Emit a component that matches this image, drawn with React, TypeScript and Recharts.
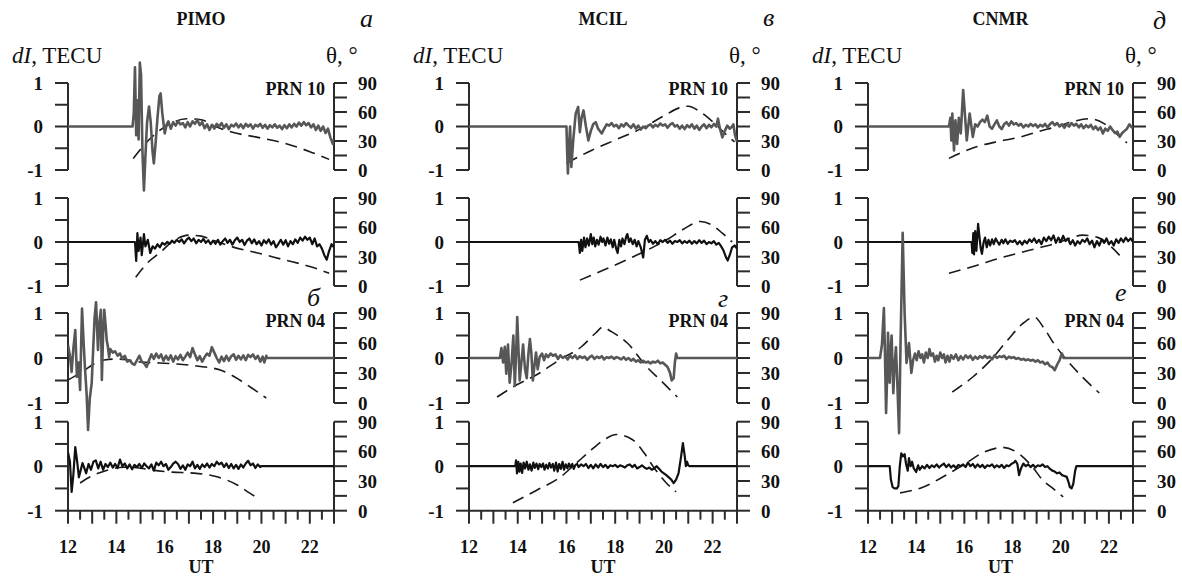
import React from 'react';
import { LineChart, Line, XAxis, YAxis, ReferenceLine } from 'recharts';

type P = [number, number];

const stations = ['PIMO', 'MCIL', 'CNMR'];
const topLetters = ['а', 'в', 'д'];
const midLetters = ['б', 'г', 'е'];
const prnTop = 'PRN 10';
const prnMid = 'PRN 04';
const xTicks = [12, 12.5, 13, 13.5, 14, 14.5, 15, 15.5, 16, 16.5, 17, 17.5, 18, 18.5, 19, 19.5, 20, 20.5, 21, 21.5, 22, 22.5, 23];
const xTickLabels = [12, 14, 16, 18, 20, 22];
const dITicks = [-1, -0.5, 0, 0.5, 1];
const dILabels = [-1, 0, 1];
const thTicks = [0, 15, 30, 45, 60, 75, 90];
const thLabels = [0, 30, 60, 90];

// ---------- PIMO ----------
const pimoR1dI: P[] = [[12,0],[14.67,0],[14.72,0.3],[14.77,1.36],[14.82,-0.2],[14.87,0.6],[14.92,-0.3],[14.97,1.47],[15.02,1.2],[15.08,-0.6],[15.14,-1.47],[15.2,-0.7],[15.27,0.1],[15.35,0.46],[15.42,0.1],[15.5,-0.6],[15.55,-0.85],[15.62,-0.4],[15.7,0.2],[15.78,0.7],[15.83,0.76],[15.9,0.3],[16.0,-0.16],[16.08,0.05],[16.15,0.12],[16.25,-0.05],[16.35,0.1],[16.45,0.02],[16.55,0.12],[16.65,0.05],[16.75,0.08],[16.85,-0.02],[16.95,0.1],[17.05,0.0],[17.15,0.12],[17.25,0.06],[17.35,0.15],[17.45,0.03],[17.55,0.1],[17.65,-0.04],[17.75,0.05],[17.85,-0.08],[17.95,0.04],[18.05,-0.05],[18.15,0.06],[18.25,0.0],[18.35,0.08],[18.45,-0.03],[18.55,0.05],[18.65,-0.06],[18.75,0.04],[18.85,0.0],[18.95,0.07],[19.05,-0.02],[19.15,0.05],[19.25,-0.04],[19.35,0.06],[19.45,0.0],[19.55,0.05],[19.65,-0.05],[19.75,0.04],[19.85,0.0],[19.95,0.06],[20.05,-0.03],[20.15,0.04],[20.25,-0.05],[20.35,0.03],[20.45,-0.02],[20.55,0.05],[20.65,-0.03],[20.75,0.02],[20.85,-0.06],[20.95,0.03],[21.05,-0.04],[21.15,0.05],[21.25,-0.02],[21.35,0.06],[21.45,0.0],[21.55,0.09],[21.65,0.02],[21.75,0.1],[21.85,0.03],[21.95,0.08],[22.05,-0.02],[22.15,0.05],[22.25,-0.08],[22.35,0.02],[22.45,-0.1],[22.55,0.0],[22.65,-0.15],[22.75,-0.05],[22.85,-0.25],[22.95,-0.4],[23,-0.3]];
const pimoR1th: P[] = [[14.7,12],[15.3,30],[16.1,46],[16.9,53],[17.5,52],[18.1,45],[18.8,39],[19.8,34],[20.9,28],[22,19],[22.8,11]];
const pimoR2dI: P[] = [[12,0],[14.77,0],[14.82,-0.43],[14.87,0.2],[14.92,-0.2],[15.0,0.1],[15.05,-0.3],[15.14,0.18],[15.2,-0.1],[15.3,0.05],[15.4,-0.25],[15.5,-0.1],[15.6,-0.15],[15.7,-0.05],[15.8,-0.12],[15.9,-0.02],[16.0,-0.06],[16.1,0.0],[16.2,-0.04],[16.3,0.03],[16.4,-0.02],[16.5,0.05],[16.6,0.0],[16.7,0.06],[16.8,-0.03],[16.9,0.05],[17.0,0.1],[17.1,0.02],[17.2,0.08],[17.3,-0.03],[17.4,0.05],[17.5,0.0],[17.6,0.07],[17.7,-0.02],[17.8,0.04],[17.9,-0.05],[18.0,0.03],[18.1,-0.04],[18.2,0.05],[18.3,-0.06],[18.4,0.02],[18.5,0.08],[18.6,-0.02],[18.7,0.05],[18.8,-0.06],[18.9,0.04],[19.0,0.1],[19.1,0.0],[19.2,0.05],[19.3,-0.07],[19.4,0.03],[19.5,0.08],[19.6,-0.03],[19.7,0.06],[19.8,-0.05],[19.9,0.02],[20.0,-0.08],[20.1,0.04],[20.2,-0.03],[20.3,0.06],[20.4,-0.06],[20.5,0.02],[20.6,-0.12],[20.7,-0.04],[20.8,0.05],[20.9,-0.06],[21.0,0.04],[21.1,-0.1],[21.2,0.02],[21.3,-0.05],[21.4,0.06],[21.5,-0.02],[21.6,0.1],[21.7,0.03],[21.8,0.12],[21.9,0.05],[22.0,0.1],[22.1,-0.05],[22.2,0.08],[22.3,-0.1],[22.4,-0.05],[22.5,-0.15],[22.6,-0.3],[22.7,-0.4],[22.8,-0.2],[22.9,-0.05],[23,-0.12]];
const pimoR2th: P[] = [[14.8,9],[15.3,24],[15.8,34],[16.3,45],[17,52],[17.5,51],[18.1,46],[18.8,40],[19.8,34],[20.9,27],[22,20],[22.8,13]];
const pimoR3dI: P[] = [[12,0.29],[12.08,0.05],[12.15,-0.31],[12.22,0.2],[12.3,0.62],[12.37,-0.42],[12.44,-0.1],[12.5,-0.71],[12.58,1.1],[12.64,0.4],[12.7,-0.2],[12.77,-0.8],[12.83,-1.6],[12.9,-0.9],[12.98,-0.56],[13.05,0.3],[13.1,0.9],[13.16,1.24],[13.24,0.18],[13.3,0.8],[13.36,1.07],[13.4,-0.49],[13.45,0.5],[13.5,1.07],[13.56,0.7],[13.6,0.4],[13.65,0.25],[13.7,0.02],[13.75,0.2],[13.85,0.12],[13.95,0.15],[14.05,0.05],[14.15,0.1],[14.25,-0.02],[14.35,0.05],[14.45,-0.08],[14.55,-0.05],[14.65,-0.12],[14.75,-0.15],[14.85,-0.05],[14.95,0.05],[15.05,-0.08],[15.15,-0.12],[15.25,-0.2],[15.35,-0.05],[15.45,0.08],[15.55,-0.02],[15.65,0.1],[15.75,0.0],[15.85,0.08],[15.95,-0.06],[16.05,0.05],[16.15,-0.04],[16.25,0.06],[16.35,-0.08],[16.45,0.04],[16.55,-0.03],[16.65,0.07],[16.75,-0.05],[16.85,0.03],[16.95,0.12],[17.05,0.02],[17.15,0.22],[17.25,0.08],[17.35,-0.05],[17.45,0.04],[17.55,-0.08],[17.65,0.02],[17.75,0.1],[17.85,0.05],[17.95,0.24],[18.05,0.12],[18.15,0.0],[18.25,-0.1],[18.35,0.03],[18.45,-0.07],[18.55,0.05],[18.65,-0.06],[18.75,0.04],[18.85,0.08],[18.95,-0.04],[19.05,0.05],[19.15,-0.03],[19.25,0.06],[19.35,-0.05],[19.45,0.07],[19.55,0.02],[19.65,0.08],[19.75,-0.02],[19.85,0.05],[19.95,-0.08],[20.05,0.03],[20.12,-0.1],[20.2,0.05],[20.22,0],[23,0]];
const pimoR3th: P[] = [[12,23],[12.7,33],[13,38],[13.5,43],[14,44],[14.5,43],[15,41],[15.8,40],[16.5,39],[17.3,37],[18.3,33],[19.1,23],[19.6,15],[20.2,5]];
const pimoR4dI: P[] = [[12,0.31],[12.08,0.1],[12.15,-0.58],[12.22,-0.2],[12.3,0.43],[12.38,0.1],[12.45,-0.25],[12.52,-0.1],[12.6,0.07],[12.68,-0.05],[12.75,-0.16],[12.85,0.05],[12.95,-0.08],[13.05,0.1],[13.15,0.13],[13.25,-0.05],[13.35,0.1],[13.45,-0.08],[13.55,0.05],[13.65,-0.02],[13.75,0.08],[13.85,-0.03],[13.95,0.05],[14.05,-0.04],[14.15,0.15],[14.25,0.0],[14.35,0.06],[14.45,-0.05],[14.55,0.04],[14.65,-0.07],[14.75,0.03],[14.85,-0.02],[14.95,0.05],[15.05,-0.04],[15.15,0.06],[15.25,0.0],[15.35,-0.05],[15.45,0.04],[15.55,-0.1],[15.65,0.08],[15.75,0.02],[15.85,0.1],[15.95,0.0],[16.05,0.05],[16.15,-0.08],[16.25,-0.02],[16.35,0.06],[16.45,0.1],[16.55,0.05],[16.65,-0.06],[16.75,0.02],[16.85,-0.08],[16.95,0.04],[17.05,0.0],[17.15,0.1],[17.25,-0.05],[17.35,0.03],[17.45,-0.06],[17.55,0.04],[17.65,-0.02],[17.75,0.06],[17.85,-0.03],[17.95,0.05],[18.05,0.0],[18.15,0.1],[18.25,0.04],[18.35,0.08],[18.45,-0.02],[18.55,0.06],[18.65,-0.04],[18.75,0.05],[18.85,-0.05],[18.95,0.03],[19.05,-0.06],[19.15,0.04],[19.25,-0.03],[19.35,0.06],[19.45,0.12],[19.55,0.02],[19.65,0.06],[19.75,-0.04],[19.85,0.04],[19.95,-0.02],[20.0,0],[23,0]];
const pimoR4th: P[] = [[12.5,28],[12.9,34],[13.5,40],[14.3,44],[15,43],[15.5,41],[16.3,39],[17.2,38],[18.2,34],[19,26],[19.5,18],[19.9,12]];

// ---------- MCIL ----------
const mcilR1dI: P[] = [[12,0],[16.0,0],[16.03,-0.6],[16.06,-1.08],[16.1,-0.5],[16.15,0.0],[16.2,-0.93],[16.28,-0.3],[16.38,0.3],[16.48,0.45],[16.55,-0.13],[16.62,0.2],[16.7,0.37],[16.8,0.0],[16.9,-0.32],[17.0,-0.1],[17.1,0.05],[17.2,0.1],[17.3,-0.05],[17.45,-0.16],[17.55,-0.05],[17.65,0.05],[17.75,0.02],[17.85,0.08],[17.95,0.0],[18.05,0.04],[18.15,-0.04],[18.25,0.05],[18.35,0.0],[18.45,0.08],[18.55,0.02],[18.65,-0.03],[18.75,0.05],[18.85,-0.05],[18.95,0.02],[19.05,-0.07],[19.15,0.0],[19.25,-0.04],[19.35,0.02],[19.45,0.05],[19.55,-0.02],[19.65,0.04],[19.75,0.0],[19.85,0.07],[19.95,0.02],[20.05,0.05],[20.15,-0.03],[20.25,0.04],[20.35,0.08],[20.45,0.0],[20.55,0.03],[20.65,-0.05],[20.75,0.02],[20.85,-0.06],[20.95,0.03],[21.05,-0.02],[21.15,0.05],[21.25,-0.05],[21.35,0.02],[21.45,-0.08],[21.55,0.0],[21.65,0.05],[21.75,-0.04],[21.85,0.04],[21.95,-0.02],[22.05,0.06],[22.15,0.0],[22.22,0.18],[22.3,-0.05],[22.4,-0.25],[22.5,-0.1],[22.6,0.02],[22.7,-0.05],[22.8,0.0],[22.85,0.05],[22.92,-0.2],[23,-0.35]];
const mcilR1th: P[] = [[16,7],[17,20],[18,31],[19,42],[20,56],[20.6,64],[21,66],[21.5,60],[22,50],[22.5,38],[22.9,29]];
const mcilR2dI: P[] = [[12,0],[16.5,0],[16.55,-0.25],[16.6,0.05],[16.65,-0.2],[16.72,0.1],[16.78,-0.12],[16.85,0.08],[16.92,-0.08],[17.0,0.18],[17.06,-0.05],[17.12,0.1],[17.18,-0.1],[17.25,0.05],[17.32,-0.06],[17.4,0.12],[17.46,0.0],[17.52,0.08],[17.6,-0.08],[17.68,0.1],[17.75,-0.04],[17.82,0.06],[17.9,-0.12],[17.96,0.05],[18.04,-0.15],[18.1,-0.25],[18.17,0.05],[18.24,-0.1],[18.3,0.08],[18.38,-0.05],[18.45,0.12],[18.5,0.18],[18.57,0.0],[18.64,0.08],[18.72,-0.05],[18.8,0.05],[18.88,-0.1],[18.95,0.02],[19.05,-0.12],[19.15,-0.35],[19.22,0.05],[19.3,0.14],[19.38,0.0],[19.45,0.05],[19.55,-0.04],[19.65,0.02],[19.75,-0.05],[19.85,0.04],[19.95,0.0],[20.05,0.05],[20.15,-0.02],[20.25,0.03],[20.35,-0.04],[20.45,0.02],[20.55,0.0],[20.65,0.04],[20.75,-0.03],[20.85,0.02],[20.95,-0.02],[21.05,0.03],[21.15,-0.04],[21.25,0.02],[21.35,-0.03],[21.45,0.04],[21.55,-0.02],[21.65,0.03],[21.75,-0.05],[21.85,0.0],[21.95,-0.03],[22.05,0.02],[22.15,-0.06],[22.25,-0.02],[22.35,-0.1],[22.45,-0.2],[22.55,-0.35],[22.62,-0.42],[22.7,-0.3],[22.8,-0.12],[22.9,-0.08],[23,-0.15]];
const mcilR2th: P[] = [[16.55,6],[17.5,16],[18.75,30],[19.5,39],[20.1,47],[20.8,58],[21.5,66],[22,62],[22.4,54],[22.8,45]];
const mcilR3dI: P[] = [[12,0],[13.27,0],[13.33,0.22],[13.4,-0.1],[13.47,0.25],[13.53,-0.35],[13.6,0.3],[13.67,-0.55],[13.75,-0.1],[13.82,0.5],[13.88,-0.62],[13.94,0.2],[13.98,0.91],[14.03,0.2],[14.08,-0.5],[14.15,-0.1],[14.22,0.3],[14.3,-0.25],[14.37,-0.45],[14.44,0.1],[14.5,0.42],[14.56,0.1],[14.62,-0.5],[14.68,-0.2],[14.75,0.12],[14.82,-0.25],[14.9,0.02],[15.0,0.1],[15.08,-0.05],[15.16,0.08],[15.25,0.02],[15.35,0.1],[15.45,0.05],[15.55,0.08],[15.65,-0.02],[15.75,0.06],[15.85,0.0],[15.95,0.04],[16.05,-0.03],[16.15,0.05],[16.25,0.0],[16.35,0.06],[16.45,-0.02],[16.55,0.04],[16.65,0.0],[16.75,0.03],[16.85,-0.04],[16.95,0.02],[17.05,0.05],[17.15,-0.02],[17.25,0.03],[17.35,0.0],[17.45,0.04],[17.55,-0.03],[17.65,0.02],[17.75,0.0],[17.85,0.03],[17.95,-0.02],[18.05,0.02],[18.15,0.0],[18.25,-0.03],[18.35,0.02],[18.45,-0.04],[18.55,0.0],[18.65,-0.06],[18.75,-0.02],[18.85,-0.08],[18.95,-0.05],[19.05,-0.1],[19.15,-0.06],[19.25,-0.1],[19.35,-0.08],[19.45,-0.12],[19.55,-0.08],[19.65,-0.1],[19.75,-0.06],[19.85,-0.12],[19.95,-0.1],[20.05,-0.15],[20.15,-0.2],[20.25,-0.33],[20.32,-0.5],[20.4,-0.45],[20.45,-0.1],[20.5,0.1],[20.55,0],[23,0]];
const mcilR3th: P[] = [[13.15,6],[13.8,16],[14.9,30],[15.7,43],[16.6,56],[17.2,70],[17.5,76],[17.8,72],[18.5,60],[19.3,36],[19.85,23],[20.55,6]];
const mcilR4dI: P[] = [[12,0],[13.9,0],[13.93,0.13],[13.97,-0.16],[14.02,0.1],[14.07,-0.12],[14.12,0.06],[14.18,-0.15],[14.24,0.08],[14.3,-0.05],[14.37,0.1],[14.44,-0.08],[14.5,0.04],[14.57,-0.1],[14.64,0.08],[14.7,-0.04],[14.77,0.06],[14.84,-0.07],[14.9,0.05],[14.97,-0.02],[15.04,0.06],[15.1,-0.08],[15.17,0.03],[15.24,-0.05],[15.3,0.07],[15.37,-0.03],[15.44,0.05],[15.5,-0.1],[15.57,0.08],[15.64,-0.12],[15.7,0.05],[15.77,-0.06],[15.84,0.1],[15.9,-0.08],[15.97,0.04],[16.04,-0.05],[16.1,0.06],[16.17,-0.03],[16.24,0.05],[16.3,-0.06],[16.37,0.03],[16.44,0.05],[16.5,-0.02],[16.6,0.04],[16.7,0.0],[16.8,0.05],[16.9,-0.04],[17.0,0.03],[17.1,-0.05],[17.2,0.04],[17.3,-0.03],[17.4,0.05],[17.5,-0.02],[17.6,0.03],[17.7,-0.04],[17.8,0.02],[17.9,0.0],[18.0,0.03],[18.1,-0.02],[18.2,0.02],[18.3,0.0],[18.4,-0.03],[18.5,0.02],[18.6,0.04],[18.7,-0.02],[18.8,0.03],[18.9,-0.05],[19.0,-0.02],[19.1,0.02],[19.2,-0.03],[19.3,-0.06],[19.4,-0.03],[19.5,-0.08],[19.6,-0.05],[19.7,0.0],[19.8,-0.06],[19.9,-0.12],[20.0,-0.16],[20.1,-0.2],[20.2,-0.25],[20.3,-0.3],[20.4,-0.38],[20.5,-0.3],[20.6,-0.16],[20.7,0.2],[20.78,0.52],[20.85,0.25],[20.9,0.0],[20.95,0.1],[21.0,0.02],[21.05,0],[23,0]];
const mcilR4th: P[] = [[13.8,8],[14.8,21],[15.75,34],[16.4,48],[16.95,60],[17.5,71],[18.05,77],[18.7,72],[19.2,58],[19.55,45],[20.1,28],[20.5,19]];

// ---------- CNMR ----------
const cnmrR1dI: P[] = [[12,0],[15.36,0],[15.42,0.2],[15.46,-0.32],[15.5,0.3],[15.57,-0.55],[15.63,0.14],[15.7,-0.4],[15.77,0.2],[15.85,-0.16],[15.95,0.84],[16.02,0.3],[16.1,-0.32],[16.22,0.3],[16.35,-0.24],[16.45,0.05],[16.55,0.0],[16.65,0.1],[16.75,0.16],[16.85,0.1],[16.95,0.25],[17.05,0.0],[17.15,-0.05],[17.25,0.05],[17.35,0.14],[17.45,0.0],[17.55,-0.06],[17.65,0.05],[17.75,0.1],[17.85,0.02],[17.95,0.12],[18.05,0.05],[18.15,0.08],[18.25,0.02],[18.35,0.06],[18.45,-0.02],[18.55,0.04],[18.65,0.0],[18.75,0.06],[18.85,0.01],[18.95,0.05],[19.05,-0.02],[19.15,0.04],[19.25,0.0],[19.35,0.06],[19.45,-0.02],[19.55,0.05],[19.65,0.1],[19.75,0.03],[19.85,0.08],[19.95,0.0],[20.05,0.05],[20.15,-0.03],[20.25,0.06],[20.35,0.0],[20.45,0.08],[20.55,0.02],[20.65,0.06],[20.75,-0.02],[20.85,0.05],[20.95,-0.04],[21.05,0.03],[21.15,-0.02],[21.25,0.04],[21.35,-0.06],[21.45,0.0],[21.55,-0.08],[21.65,-0.02],[21.75,-0.16],[21.85,-0.05],[21.95,-0.1],[22.05,0.0],[22.15,-0.08],[22.25,-0.15],[22.35,-0.12],[22.45,-0.24],[22.55,-0.15],[22.65,-0.1],[22.75,-0.05],[22.85,0.05],[22.95,-0.02],[23,0]];
const cnmrR1th: P[] = [[15.36,12],[16.5,24],[17.5,30],[18.3,34],[19.1,40],[19.85,45],[20.5,50],[21.2,53],[21.8,48],[22.3,38],[22.75,28]];
const cnmrR2dI: P[] = [[12,0],[16.3,0],[16.33,-0.25],[16.37,0.2],[16.4,-0.28],[16.45,0.25],[16.5,-0.2],[16.57,0.41],[16.63,0.1],[16.68,-0.15],[16.73,-0.27],[16.8,0.0],[16.86,0.1],[16.93,-0.12],[17.0,0.05],[17.07,-0.08],[17.15,0.06],[17.22,-0.05],[17.3,0.08],[17.38,0.0],[17.45,-0.06],[17.55,0.05],[17.62,-0.03],[17.7,0.06],[17.8,-0.04],[17.9,0.03],[18.0,0.0],[18.1,0.04],[18.2,-0.05],[18.3,0.02],[18.4,-0.06],[18.5,0.03],[18.6,-0.03],[18.7,0.06],[18.8,0.0],[18.9,0.08],[19.0,-0.02],[19.1,0.05],[19.2,-0.05],[19.3,0.1],[19.4,0.02],[19.5,0.12],[19.6,0.04],[19.7,0.15],[19.8,-0.02],[19.9,0.1],[20.0,0.0],[20.1,0.14],[20.2,0.02],[20.3,0.08],[20.4,-0.05],[20.5,0.04],[20.6,-0.08],[20.7,0.02],[20.8,-0.04],[20.9,0.05],[21.0,0.0],[21.1,0.08],[21.2,-0.05],[21.3,0.03],[21.4,-0.12],[21.5,0.02],[21.6,-0.08],[21.7,0.06],[21.8,-0.02],[21.9,0.08],[22.0,-0.05],[22.1,0.02],[22.2,-0.08],[22.3,0.06],[22.4,-0.02],[22.5,0.08],[22.6,0.0],[22.7,0.1],[22.8,0.02],[22.9,0.08],[23,0.0]];
const cnmrR2th: P[] = [[15.36,13],[16.5,21],[17.4,28],[18.3,34],[19.1,39],[19.85,44],[20.4,49],[20.9,52],[21.5,50],[22.1,40],[22.6,27]];
const cnmrR3dI: P[] = [[12,0],[12.5,0],[12.58,0.3],[12.66,1.11],[12.7,0.2],[12.75,-1.22],[12.8,-0.3],[12.83,0.56],[12.87,0.0],[12.9,-0.55],[12.94,0.1],[12.98,0.5],[13.02,-0.2],[13.05,-0.78],[13.1,-0.2],[13.16,0.24],[13.22,-0.6],[13.29,-1.67],[13.35,0.3],[13.44,2.78],[13.52,1.0],[13.6,-0.11],[13.65,0.1],[13.7,0.33],[13.75,0.0],[13.8,-0.33],[13.87,-0.05],[13.95,0.1],[14.02,-0.05],[14.1,0.15],[14.18,0.0],[14.25,0.08],[14.32,-0.1],[14.4,0.12],[14.48,0.0],[14.55,0.2],[14.62,0.05],[14.7,0.1],[14.78,-0.08],[14.85,0.05],[14.92,-0.05],[15.0,0.12],[15.08,0.0],[15.15,0.08],[15.22,-0.1],[15.3,0.05],[15.38,-0.08],[15.45,0.06],[15.55,-0.02],[15.65,0.08],[15.75,-0.05],[15.85,0.04],[15.95,-0.03],[16.05,0.06],[16.15,0.0],[16.25,0.05],[16.35,-0.04],[16.45,0.03],[16.55,-0.02],[16.65,0.04],[16.75,0.0],[16.85,0.05],[16.95,0.0],[17.05,0.03],[17.15,-0.03],[17.25,0.06],[17.35,0.0],[17.45,0.04],[17.55,0.02],[17.65,0.05],[17.75,-0.02],[17.85,0.03],[17.95,0.0],[18.05,0.02],[18.15,-0.02],[18.25,0.0],[18.35,-0.04],[18.45,-0.02],[18.55,-0.05],[18.65,-0.03],[18.75,-0.06],[18.85,-0.04],[18.95,-0.08],[19.05,-0.05],[19.15,-0.1],[19.25,-0.08],[19.35,-0.14],[19.45,-0.1],[19.55,-0.18],[19.65,-0.2],[19.75,-0.27],[19.85,-0.15],[19.95,-0.05],[20.05,0.1],[20.12,0.0],[20.2,0],[23,0]];
const cnmrR3th: P[] = [[15.5,11],[16.35,26],[17.1,43],[17.8,63],[18.45,80],[18.9,86],[19.3,75],[19.7,60],[20.25,43],[20.9,26],[21.6,10]];
const cnmrR4dI: P[] = [[12,0],[12.9,0],[12.95,-0.3],[13.02,-0.47],[13.1,-0.5],[13.2,-0.5],[13.26,-0.45],[13.32,0.0],[13.38,0.29],[13.45,0.22],[13.52,0.27],[13.58,0.05],[13.65,-0.1],[13.7,0.18],[13.77,0.0],[13.83,0.1],[13.9,-0.05],[14.0,-0.13],[14.08,0.02],[14.15,-0.08],[14.25,0.0],[14.35,-0.05],[14.45,0.03],[14.55,-0.04],[14.65,0.02],[14.75,-0.02],[14.85,0.04],[14.95,-0.03],[15.05,0.02],[15.15,0.06],[15.25,-0.02],[15.35,0.04],[15.45,-0.03],[15.55,0.02],[15.65,-0.04],[15.75,0.03],[15.85,0.0],[15.95,0.04],[16.05,-0.02],[16.15,0.08],[16.25,0.0],[16.35,0.05],[16.45,-0.03],[16.55,0.04],[16.65,-0.02],[16.75,0.03],[16.85,-0.04],[16.95,0.02],[17.05,0.0],[17.15,0.04],[17.25,-0.03],[17.35,0.02],[17.45,-0.02],[17.55,0.03],[17.65,-0.04],[17.75,0.02],[17.85,0.0],[17.95,0.05],[18.05,0.08],[18.12,0.12],[18.2,0.05],[18.27,-0.2],[18.35,-0.05],[18.45,0.06],[18.55,0.0],[18.65,0.04],[18.75,-0.02],[18.85,0.03],[18.95,-0.03],[19.05,0.02],[19.15,0.0],[19.25,0.04],[19.35,-0.02],[19.45,0.0],[19.55,-0.06],[19.65,-0.1],[19.75,-0.12],[19.85,-0.16],[19.95,-0.14],[20.05,-0.2],[20.15,-0.22],[20.25,-0.24],[20.32,-0.35],[20.38,-0.47],[20.45,-0.5],[20.52,-0.4],[20.6,-0.1],[20.65,0],[23,0]];
const cnmrR4th: P[] = [[13.33,18],[14.3,24],[15.1,34],[16,47],[16.8,59],[17.6,64],[18.3,57],[18.8,45],[19.25,31],[19.7,22],[20.1,14]];

const seriesDI: P[][][] = [
  [pimoR1dI, pimoR2dI, pimoR3dI, pimoR4dI],
  [mcilR1dI, mcilR2dI, mcilR3dI, mcilR4dI],
  [cnmrR1dI, cnmrR2dI, cnmrR3dI, cnmrR4dI],
];
const seriesTh: P[][][] = [
  [pimoR1th, pimoR2th, pimoR3th, pimoR4th],
  [mcilR1th, mcilR2th, mcilR3th, mcilR4th],
  [cnmrR1th, cnmrR2th, cnmrR3th, cnmrR4th],
];

// ---------- layout ----------
const COLS = [{ l: 68, r: 334 }, { l: 469, r: 737 }, { l: 868, r: 1133 }];
const ROWS = [{ t: 83, b: 170 }, { t: 198, b: 286 }, { t: 313, b: 403 }, { t: 422, b: 511 }];
const FONT = '"Liberation Serif", "DejaVu Serif", "Noto Serif", "Times New Roman", serif';
const AX = '#2b2b2b';

const toPts = (a: P[]) => a.map(([t, v]) => ({ t, v }));

const dITick = (p: any) => {
  const v = p.payload.value;
  if (!dILabels.includes(v)) return <g />;
  return (
    <text x={p.x} y={p.y} dy="0.36em" textAnchor="end" fontFamily={FONT} fontWeight="bold" fontSize={19} fill="#111">
      {v}
    </text>
  );
};
const thTick = (p: any) => {
  const v = p.payload.value;
  if (!thLabels.includes(v)) return <g />;
  return (
    <text x={p.x} y={p.y} dy="0.36em" textAnchor="start" fontFamily={FONT} fontWeight="bold" fontSize={19} fill="#111">
      {v}
    </text>
  );
};
const xTick = (p: any) => {
  const v = p.payload.value;
  const isInt = Math.abs(v - Math.round(v)) < 1e-6;
  const len = isInt ? 13 : 9;
  return (
    <g>
      <line x1={p.x} x2={p.x} y1={p.y} y2={p.y + len} stroke={AX} strokeWidth={2} />
      {xTickLabels.includes(v) && (
        <text x={p.x} y={p.y + 36} dy="0.36em" textAnchor="middle" fontFamily={FONT} fontWeight="bold" fontSize={18} fill="#111">
          {v}
        </text>
      )}
    </g>
  );
};

function Panel({ col, row }: { col: number; row: number }) {
  const c = COLS[col];
  const r = ROWS[row];
  const bottom = row === 3;
  const half = (r.b - r.t) / 2;
  const center = (r.t + r.b) / 2;
  const lo = bottom ? -1 : -3;
  const hi = bottom ? 1.6 : 3;
  const plotTop = center - hi * half;
  const plotH = (hi - lo) * half;
  const LW = 60;
  const RW = 56;
  const XH = bottom ? 64 : 0;
  const w = LW + (c.r - c.l) + RW;
  const signalColor = row % 2 === 0 ? '#575757' : '#111111';
  const signalWidth = row % 2 === 0 ? 2.6 : 2.2;
  return (
    <div style={{ position: 'absolute', left: c.l - LW, top: plotTop }}>
      <LineChart width={w} height={plotH + XH} margin={{ top: 0, right: 0, bottom: 0, left: 0 }}>
        <XAxis
          xAxisId="x"
          type="number"
          dataKey="t"
          domain={[12, 23]}
          allowDataOverflow
          ticks={xTicks}
          interval={0}
          hide={!bottom}
          height={XH}
          tickSize={0}
          tickMargin={0}
          tickLine={false}
          axisLine={{ stroke: AX, strokeWidth: 2 }}
          tick={xTick}
        />
        <YAxis
          yAxisId="dI"
          orientation="left"
          type="number"
          width={LW}
          domain={[lo, hi]}
          allowDataOverflow
          ticks={dITicks}
          interval={0}
          axisLine={false}
          tickSize={13}
          tickMargin={12}
          tickLine={{ stroke: AX, strokeWidth: 2 }}
          tick={dITick}
        />
        <YAxis
          yAxisId="th"
          orientation="right"
          type="number"
          width={RW}
          domain={[45 + lo * 45, 45 + hi * 45]}
          allowDataOverflow
          ticks={thTicks}
          interval={0}
          axisLine={false}
          tickSize={13}
          tickMargin={11}
          tickLine={{ stroke: AX, strokeWidth: 2 }}
          tick={thTick}
        />
        <ReferenceLine xAxisId="x" yAxisId="dI" segment={[{ x: 12, y: -1 }, { x: 12, y: 1 }]} stroke={AX} strokeWidth={2} />
        <ReferenceLine xAxisId="x" yAxisId="dI" segment={[{ x: 23, y: -1 }, { x: 23, y: 1 }]} stroke={AX} strokeWidth={2} />
        <Line
          xAxisId="x"
          yAxisId="th"
          data={toPts(seriesTh[col][row])}
          dataKey="v"
          type="monotone"
          stroke="#1a1a1a"
          strokeWidth={1.6}
          strokeDasharray="12 7"
          dot={false}
          activeDot={false}
          isAnimationActive={false}
        />
        <Line
          xAxisId="x"
          yAxisId="dI"
          data={toPts(seriesDI[col][row])}
          dataKey="v"
          type="linear"
          stroke={signalColor}
          strokeWidth={signalWidth}
          strokeLinejoin="round"
          dot={false}
          activeDot={false}
          isAnimationActive={false}
        />
      </LineChart>
    </div>
  );
}

const T = ({ x, y, size, children, bold, italic, align }: any) => (
  <div
    style={{
      position: 'absolute',
      left: x,
      top: y,
      fontFamily: FONT,
      fontSize: size,
      fontWeight: bold ? 'bold' : 'normal',
      fontStyle: italic ? 'italic' : 'normal',
      lineHeight: 1,
      whiteSpace: 'nowrap',
      color: '#111',
      transform: align === 'center' ? 'translateX(-50%)' : align === 'right' ? 'translateX(-100%)' : undefined,
    }}
  >
    {children}
  </div>
);

export default function App() {
  return (
    <div style={{ position: 'absolute', left: 0, top: 0, width: 1182, height: 576, background: '#fff', overflow: 'hidden', fontFamily: FONT }}>
      {COLS.map((c, ci) => (
        <React.Fragment key={ci}>
          {[0, 1, 2, 3].map((ri) => (
            <Panel key={ri} col={ci} row={ri} />
          ))}
        </React.Fragment>
      ))}
      {COLS.map((c, ci) => {
        const mid = (c.l + c.r) / 2;
        return (
          <React.Fragment key={'t' + ci}>
            <T x={mid} y={10} size={18} bold align="center">{stations[ci]}</T>
            <T x={c.r + [26, 26, 20][ci]} y={[6, 5, 8][ci]} size={26} italic>{topLetters[ci]}</T>
            <T x={c.l - 56} y={44} size={23}>
              <i>dI</i>, TECU
            </T>
            <T x={c.r - 8} y={44} size={23}>θ, °</T>
            <T x={c.r - 9} y={80} size={18} bold align="right">{prnTop}</T>
            <T x={c.r - [27, 19, 18][ci]} y={[285, 286, 280][ci]} size={26} italic>{midLetters[ci]}</T>
            <T x={c.r - 9} y={312} size={18} bold align="right">{prnMid}</T>
            <T x={mid} y={558} size={18} bold align="center">UT</T>
          </React.Fragment>
        );
      })}
    </div>
  );
}
